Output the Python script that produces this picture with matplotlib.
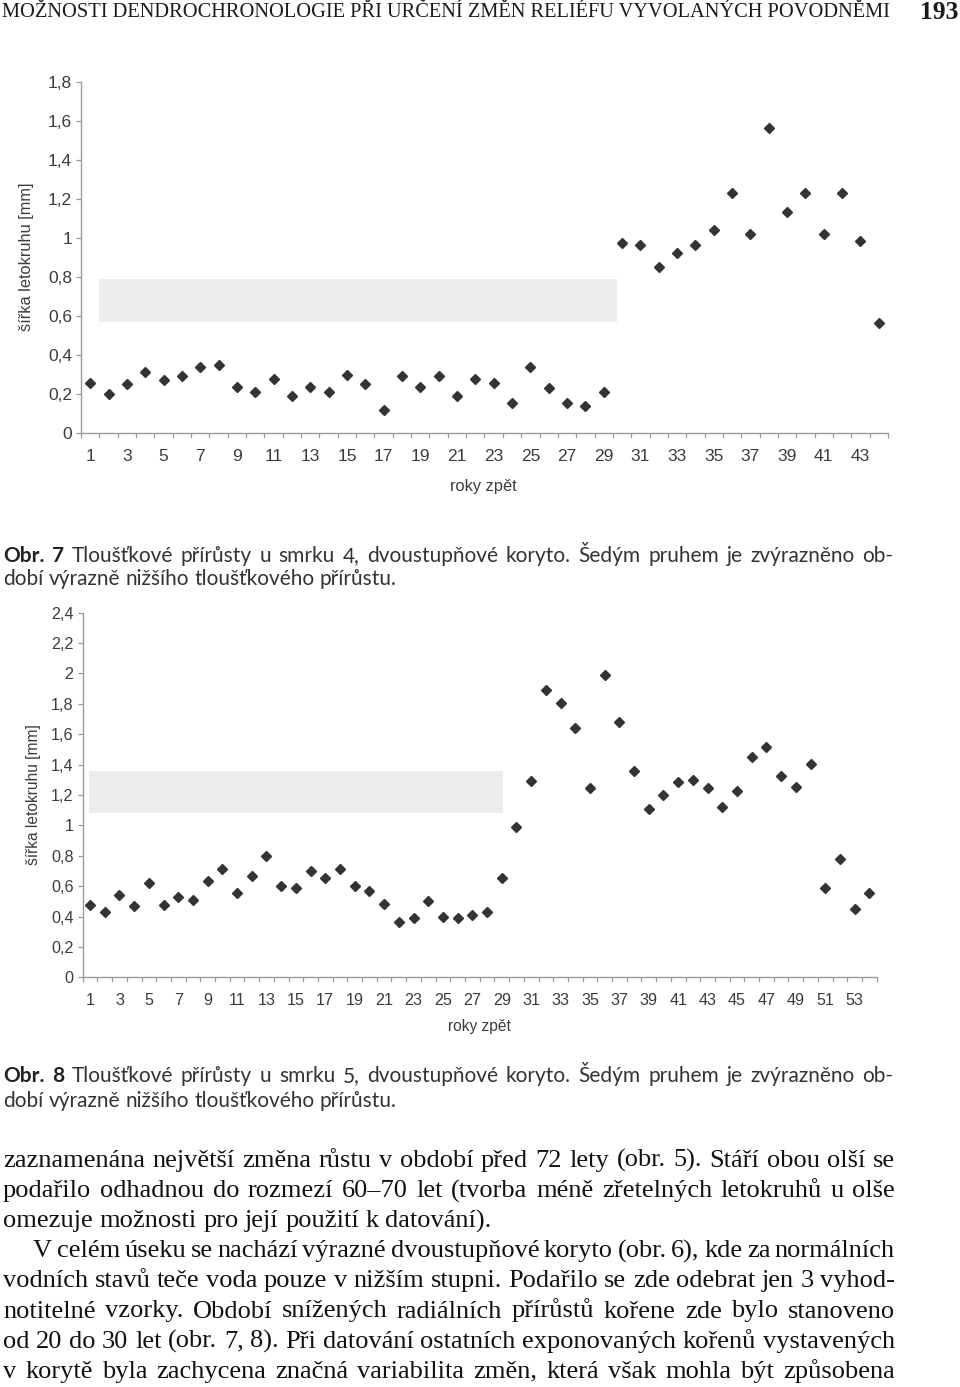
import matplotlib
matplotlib.use("Agg")
import matplotlib.pyplot as plt
from matplotlib.patches import Rectangle

# ---------------- data ----------------
years7 = list(range(1, 45))
width7 = [0.256, 0.197, 0.250, 0.310, 0.270, 0.290, 0.337, 0.349, 0.236, 0.210,
          0.277, 0.190, 0.236, 0.210, 0.297, 0.250, 0.118, 0.290, 0.236, 0.290,
          0.190, 0.277, 0.256, 0.152, 0.337, 0.229, 0.152, 0.137, 0.210, 0.974,
          0.962, 0.850, 0.923, 0.962, 1.039, 1.231, 1.019, 1.562, 1.132, 1.231,
          1.019, 1.231, 0.981, 0.562]
band7_x = [1.5, 29.7]
band7_y = [0.57, 0.79]

years8 = list(range(1, 55))
width8 = [0.476, 0.432, 0.542, 0.472, 0.619, 0.478, 0.527, 0.509, 0.636, 0.715,
          0.557, 0.667, 0.801, 0.599, 0.590, 0.700, 0.654, 0.715, 0.599, 0.566,
          0.485, 0.366, 0.391, 0.502, 0.399, 0.391, 0.408, 0.430, 0.652, 0.987,
          1.292, 1.893, 1.806, 1.641, 1.244, 1.990, 1.681, 1.356, 1.108, 1.198,
          1.283, 1.301, 1.244, 1.121, 1.229, 1.450, 1.516, 1.325, 1.253, 1.404,
          0.590, 0.781, 0.448, 0.557]
band8_x = [0.9, 29.1]
band8_y = [1.084, 1.360]

yticks7 = [0, 0.2, 0.4, 0.6, 0.8, 1.0, 1.2, 1.4, 1.6, 1.8]
yticklabels7 = ["0", "0,2", "0,4", "0,6", "0,8", "1", "1,2", "1,4", "1,6", "1,8"]
yticks8 = [0, 0.2, 0.4, 0.6, 0.8, 1.0, 1.2, 1.4, 1.6, 1.8, 2.0, 2.2, 2.4]
yticklabels8 = ["0", "0,2", "0,4", "0,6", "0,8", "1", "1,2", "1,4", "1,6", "1,8", "2", "2,2", "2,4"]

ylabel = "šířka letokruhu [mm]"
xlabel = "roky zpět"

header = "MOŽNOSTI DENDROCHRONOLOGIE PŘI URČENÍ ZMĚN RELIÉFU VYVOLANÝCH POVODNĚMI"
page_no = "193"

cap7_bold = "Obr. 7"
cap7_l1 = "Tloušťkové přírůsty u smrku 4, dvoustupňové koryto. Šedým pruhem je zvýrazněno ob-"
cap7_l2 = "dobí výrazně nižšího tloušťkového přírůstu."
cap8_bold = "Obr. 8"
cap8_l1 = "Tloušťkové přírůsty u smrku 5, dvoustupňové koryto. Šedým pruhem je zvýrazněno ob-"
cap8_l2 = "dobí výrazně nižšího tloušťkového přírůstu."

body = [
    ("zaznamenána největší změna růstu v období před 72 lety (obr. 5). Stáří obou olší se", 0, True),
    ("podařilo odhadnou do rozmezí 60–70 let (tvorba méně zřetelných letokruhů u olše", 0, True),
    ("omezuje možnosti pro její použití k datování).", 0, False),
    ("V celém úseku se nachází výrazné dvoustupňové koryto (obr. 6), kde za normálních", 30, True),
    ("vodních stavů teče voda pouze v nižším stupni. Podařilo se zde odebrat jen 3 vyhod-", 0, True),
    ("notitelné vzorky. Období snížených radiálních přírůstů kořene zde bylo stanoveno", 0, True),
    ("od 20 do 30 let (obr. 7, 8). Při datování ostatních exponovaných kořenů vystavených", 0, True),
    ("v korytě byla zachycena značná variabilita změn, která však mohla být způsobena", 0, True),
]

# ---------------- figure ----------------
W, H = 960, 1387
fig = plt.figure(figsize=(W / 100, H / 100), dpi=100)
fig.patch.set_facecolor("white")
renderer = fig.canvas.get_renderer()

def fx(x):
    return x / W

def fy(y):
    return 1 - y / H

def measure(t):
    return t.get_window_extent(renderer).width

def fit_size(s, target, **kw):
    t = fig.text(0, 0, s, fontsize=10, **kw)
    w = measure(t)
    t.remove()
    return 10 * target / w

def justify(items, x0, x1, y, size, justify_line=True):
    """items: list of (word, dict of text kwargs); y is the baseline in px"""
    texts = []
    widths = []
    for w, kw in items:
        t = fig.text(0, fy(y), w, fontsize=size, va="baseline", ha="left", **kw)
        texts.append(t)
        widths.append(measure(t))
    sp = fig.text(0, 0, "a b", fontsize=size, **items[-1][1])
    sp2 = fig.text(0, 0, "ab", fontsize=size, **items[-1][1])
    space = measure(sp) - measure(sp2)
    sp.remove(); sp2.remove()
    if justify_line and len(items) > 1:
        gap = (x1 - x0 - sum(widths)) / (len(items) - 1)
    else:
        gap = space
    x = x0
    for t, wdt in zip(texts, widths):
        t.set_x(fx(x))
        x += wdt + gap
    return texts

TICK_C = "#3c3c3c"
SPINE_C = "#9a9a9a"
MARK_C = "#333333"
BAND_C = "#ececec"
SANS = "Liberation Sans"

def make_chart(rect, years, vals, band_x, band_y, yticks, yticklabels, ymax,
               tsize, ylab_xy, xlab_xy, lab_size, xpad):
    ax = fig.add_axes(rect)
    n = len(years)
    ax.add_patch(Rectangle((band_x[0], band_y[0]), band_x[1] - band_x[0],
                           band_y[1] - band_y[0], facecolor=BAND_C,
                           edgecolor="none", zorder=1))
    ax.plot(years, vals, linestyle="none", marker="D", ms=4.7,
            color=MARK_C, mec=MARK_C, zorder=3)
    ax.set_xlim(0.5, n + 0.5)
    ax.set_ylim(0, ymax)
    for s in ["top", "right"]:
        ax.spines[s].set_visible(False)
    for s in ["left", "bottom"]:
        ax.spines[s].set_color(SPINE_C)
        ax.spines[s].set_linewidth(1.0)
    ax.set_yticks(yticks)
    ax.set_yticklabels(yticklabels)
    ax.set_xticks(years[::2])
    ax.set_xticklabels([str(v) for v in years[::2]])
    ax.set_xticks([v + 0.5 for v in range(0, n + 1)], minor=True)
    ax.tick_params(axis="x", which="major", length=0, pad=xpad,
                   labelsize=tsize, labelcolor=TICK_C)
    ax.tick_params(axis="x", which="minor", length=3.5, width=0.9,
                   color=SPINE_C, direction="out")
    ax.tick_params(axis="y", which="major", length=3.5, width=0.9,
                   color=SPINE_C, pad=3, labelsize=tsize, labelcolor=TICK_C)
    for lab in ax.get_xticklabels() + ax.get_yticklabels():
        lab.set_family(SANS)
    fig.text(fx(ylab_xy[0]), fy(ylab_xy[1]), ylabel, rotation=90,
             ha="center", va="center", fontsize=lab_size, color=TICK_C,
             family=SANS)
    fig.text(fx(xlab_xy[0]), fy(xlab_xy[1]), xlabel, ha="center",
             va="center", fontsize=lab_size, color=TICK_C, family=SANS)
    return ax

# chart 1 (Obr. 7)
make_chart([fx(81), fy(432.7), fx(888) - fx(81), fy(81.7) - fy(432.7)],
           years7, width7, band7_x, band7_y, yticks7, yticklabels7, 1.8,
           12.5, (27, 257), (483, 487), 11.8, 11.5)
# chart 2 (Obr. 8)
make_chart([fx(82.7), fy(977.3), fx(876.7) - fx(82.7), fy(612.7) - fy(977.3)],
           years8, width8, band8_x, band8_y, yticks8, yticklabels8, 2.4,
           11.6, (34, 795), (479, 1027), 11.2, 11)

# ---------------- header ----------------
SERIF = "Liberation Serif"
hs = fit_size(header, 893, family=SERIF)
fig.text(fx(2), fy(17), header, fontsize=hs, family=SERIF, va="baseline",
         ha="left", color="#1a1a1a")
ps = fit_size(page_no, 38, family=SERIF, weight="bold")
fig.text(fx(958), fy(19), page_no, fontsize=ps, family=SERIF, weight="bold",
         va="baseline", ha="right", color="#1a1a1a")

# ---------------- captions ----------------
CAP = ["Lato", "Open Sans", "DejaVu Sans"]
CAP_C = "#333333"
cs = fit_size(cap7_l2, 395, family=CAP)

def caption(bold, l1, l2, y1, y2):
    items = [(w, dict(family=CAP, weight="bold", color="#222222")) for w in bold.split()]
    items += [(w, dict(family=CAP, color=CAP_C)) for w in l1.split()]
    justify(items, 3, 893, y1, cs, True)
    items2 = [(w, dict(family=CAP, color=CAP_C)) for w in l2.split()]
    justify(items2, 3, 893, y2, cs, False)

caption(cap7_bold, cap7_l1, cap7_l2, 562, 585)
caption(cap8_bold, cap8_l1, cap8_l2, 1082, 1107)

# ---------------- body text ----------------
bs = fit_size(body[2][0], 487, family=SERIF)
for i, (line, indent, just) in enumerate(body):
    y = 1167 + i * 30.1
    items = [(w, dict(family=SERIF, color="#111111")) for w in line.split()]
    justify(items, 3 + indent, 895, y, bs, just)

fig.savefig("out.png", dpi=100, facecolor="white")
